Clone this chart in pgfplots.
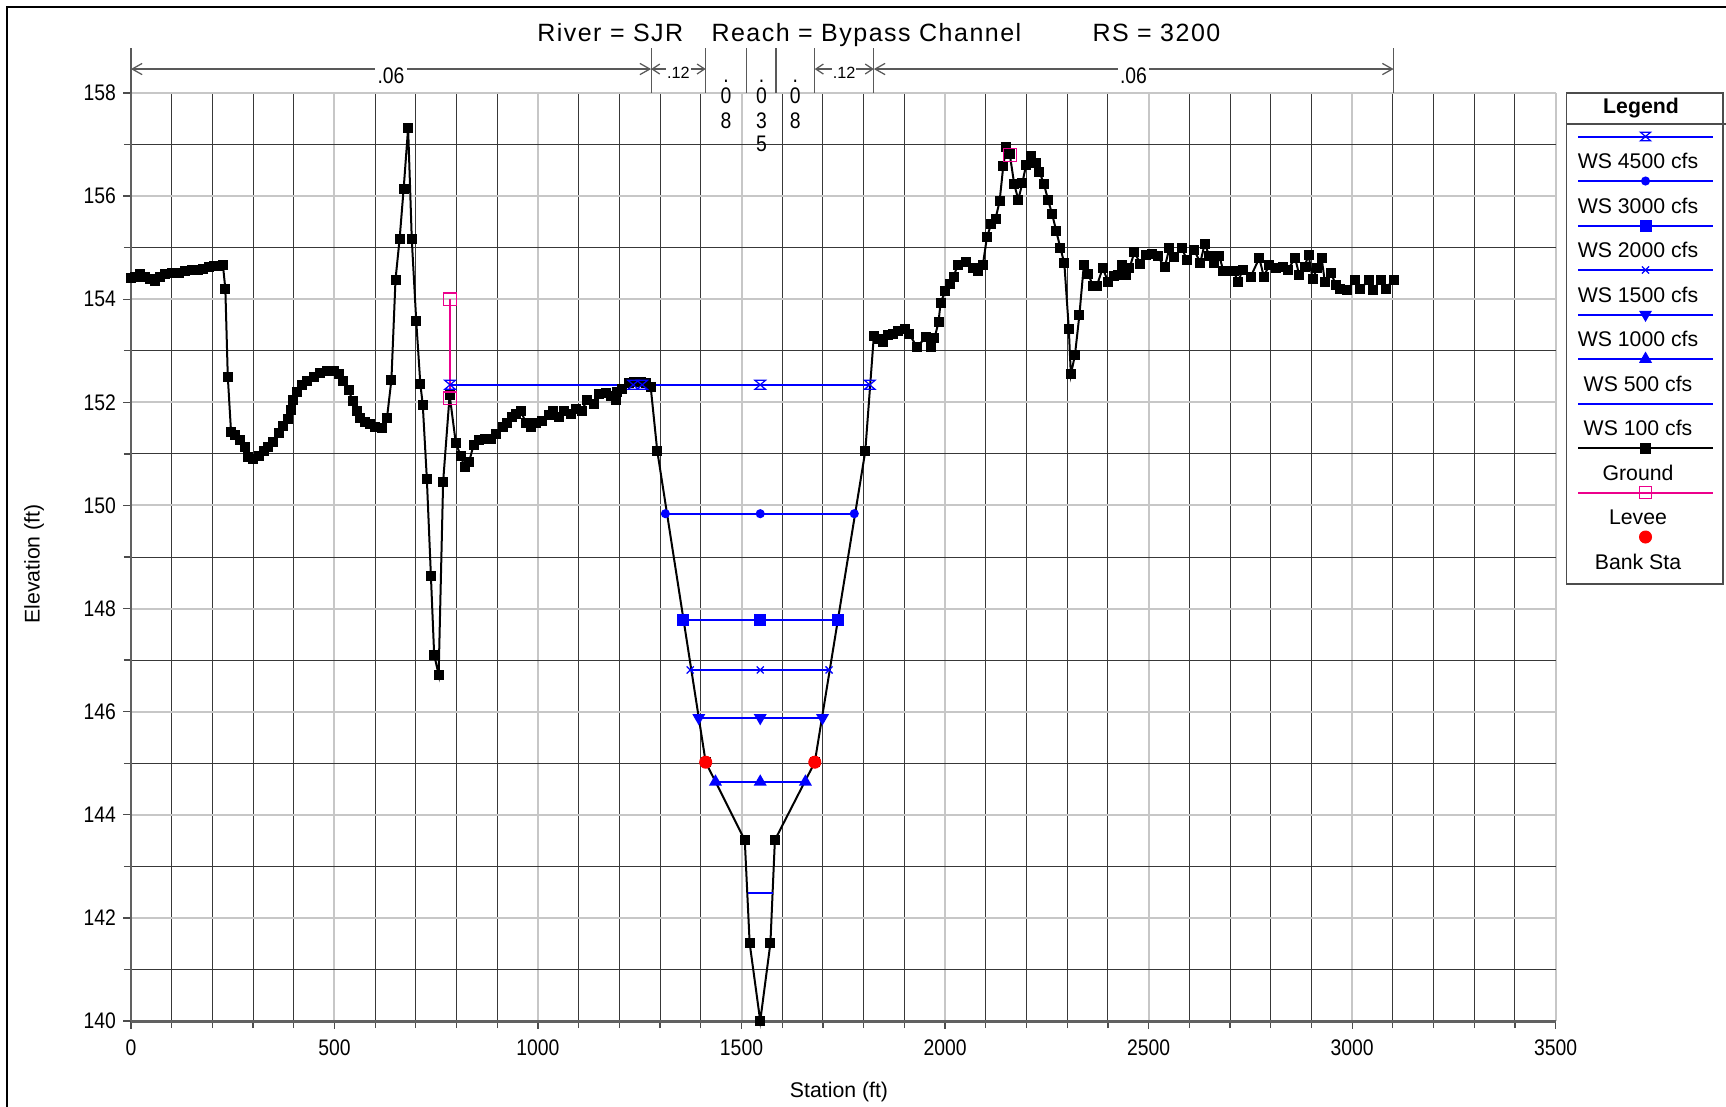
\documentclass[border=0pt]{standalone}
\usepackage{fontspec}
\setmainfont{Liberation Sans}
\newfontfamily\titlefam[LetterSpace=6]{Liberation Sans}
\usepackage{pgfplots}
\pgfplotsset{compat=1.18}
\usetikzlibrary{arrows.meta}

\newcommand\tickfont{\fontsize{9}{10.5}\selectfont}
\newcommand\legfont{\fontsize{8.5}{10}\selectfont}
\newcommand\smallnfont{\fontsize{6.5}{7.5}\selectfont}
\newcommand\titlefont{\titlefam\fontsize{10}{12}\selectfont}

\pgfdeclareplotmark{hourglass}{%
  \pgfpathmoveto{\pgfqpoint{-\pgfplotmarksize}{0.85\pgfplotmarksize}}%
  \pgfpathlineto{\pgfqpoint{\pgfplotmarksize}{0.85\pgfplotmarksize}}%
  \pgfpathlineto{\pgfqpoint{-\pgfplotmarksize}{-0.85\pgfplotmarksize}}%
  \pgfpathlineto{\pgfqpoint{\pgfplotmarksize}{-0.85\pgfplotmarksize}}%
  \pgfpathclose
  \pgfusepathqstroke}

\pgfplotsset{
  raslegend/.style={legend image code/.code={%
      \path[draw=none,fill=none] (0pt,-10.3pt) rectangle (62.6pt,7.5pt);
      \draw[mark repeat=2,mark phase=2,##1] plot coordinates {(4.6pt,5pt) (31.6pt,5pt) (58.6pt,5pt)};
      \node[draw=none,fill=none,text=black,inner sep=0pt,font=\legfont] at (28.6pt,-5.6pt) {#1};}},
  rasmarklegend/.style={legend image code/.code={%
      \path[draw=none,fill=none] (0pt,-10.3pt) rectangle (62.6pt,7.5pt);
      \path[##1] plot coordinates {(31.6pt,5pt)};
      \node[draw=none,fill=none,text=black,inner sep=0pt,font=\legfont] at (28.6pt,-5.6pt) {#1};}},
}

\pgfplotstableread{
st el
0 154.41
11 154.44
23 154.49
35 154.43
48 154.39
60 154.36
72 154.43
84 154.49
101 154.50
117 154.50
133 154.54
150 154.56
166 154.56
178 154.59
191 154.62
203 154.65
215 154.65
226 154.67
232 154.20
238 152.50
246 151.43
256 151.37
268 151.27
281 151.14
287 150.94
301 150.90
314 150.96
326 151.05
338 151.13
350 151.24
363 151.40
373 151.55
385 151.68
393 151.85
399 152.05
409 152.21
420 152.34
432 152.42
449 152.50
465 152.56
481 152.60
498 152.60
510 152.55
522 152.42
535 152.23
545 152.03
555 151.84
563 151.70
575 151.61
588 151.58
600 151.53
616 151.51
629 151.69
640 152.44
650 154.38
660 155.16
670 156.14
681 157.32
690 155.16
701 153.57
711 152.36
717 151.95
727 150.52
737 148.63
745 147.10
756 146.72
767 150.46
783 152.14
798 151.22
810 150.96
820 150.74
831 150.85
842 151.18
855 151.26
870 151.28
885 151.28
898 151.38
913 151.52
925 151.59
937 151.72
946 151.78
958 151.84
970 151.60
982 151.52
995 151.60
1011 151.64
1027 151.76
1036 151.84
1052 151.72
1064 151.84
1081 151.78
1093 151.88
1107 151.84
1121 152.04
1138 151.96
1150 152.16
1166 152.18
1179 152.12
1191 152.04
1195 152.20
1207 152.26
1224 152.37
1236 152.39
1252 152.39
1265 152.37
1277 152.29
1293 151.06
1412 145.02
1508 143.51
1520 141.51
1546 140.00
1571 141.51
1582 143.51
1680 145.02
1804 151.05
1825 153.28
1838 153.22
1848 153.18
1860 153.30
1872 153.32
1885 153.38
1902 153.43
1912 153.33
1931 153.07
1953 153.27
1966 153.07
1974 153.24
1984 153.56
1989 153.93
2000 154.15
2011 154.30
2021 154.43
2031 154.67
2052 154.73
2068 154.60
2082 154.55
2093 154.67
2103 155.21
2113 155.45
2124 155.56
2134 155.90
2143 156.58
2150 156.96
2159 156.81
2170 156.23
2180 155.93
2190 156.26
2199 156.60
2211 156.77
2223 156.65
2232 156.47
2243 156.23
2253 155.93
2263 155.65
2273 155.33
2283 155.00
2293 154.70
2304 153.43
2309 152.54
2319 152.91
2330 153.69
2341 154.67
2352 154.49
2363 154.26
2373 154.26
2387 154.60
2401 154.34
2414 154.45
2424 154.47
2434 154.67
2444 154.47
2453 154.60
2465 154.91
2480 154.69
2494 154.86
2508 154.88
2522 154.83
2540 154.63
2551 154.99
2563 154.82
2582 154.99
2594 154.76
2612 154.95
2627 154.71
2638 155.08
2649 154.84
2661 154.70
2674 154.83
2684 154.54
2698 154.54
2709 154.54
2720 154.34
2731 154.57
2751 154.44
2772 154.80
2783 154.44
2797 154.67
2813 154.60
2829 154.63
2842 154.57
2860 154.80
2870 154.47
2883 154.63
2893 154.86
2903 154.39
2914 154.60
2925 154.80
2933 154.34
2949 154.50
2960 154.27
2971 154.20
2988 154.18
3008 154.38
3020 154.19
3041 154.38
3052 154.18
3070 154.38
3082 154.20
3102 154.38
}\ground

\begin{document}
\begin{tikzpicture}
\useasboundingbox (0,0) rectangle (690.4pt,442.4pt);
\draw[line width=0.8pt] (2.8pt,-1pt) -- (2.8pt,439.6pt) -- (691pt,439.6pt);
\node[font=\titlefont, anchor=base west, inner sep=0pt] at (214.7pt,425.6pt) {River = SJR};
\node[font=\titlefont, anchor=base west, inner sep=0pt] at (284.4pt,425.6pt) {Reach = Bypass Channel};
\node[font=\titlefont, anchor=base west, inner sep=0pt] at (436.8pt,425.6pt) {RS = 3200};

\begin{axis}[
  at={(52.36pt,34pt)}, anchor=south west,
  scale only axis, width=569.9pt, height=371.2pt,
  xmin=0, xmax=3500, ymin=140, ymax=158,
  enlargelimits=false, clip=false,
  axis x line*=bottom, axis y line*=left,
  x axis line style={black!62, line width=1.2pt},
  y axis line style={black!62, line width=0.8pt},
  xtick={0,500,...,3500}, minor x tick num=4,
  ytick={140,142,...,158}, minor y tick num=1,
  grid=both,
  major grid style={draw=black!22, line width=0.8pt},
  minor grid style={draw=black!78, line width=0.4pt},
  tick align=outside,
  major tick length=3pt, minor tick length=2.8pt,
  tick style={black!70, line width=0.5pt},
  /pgf/number format/assume math mode=true,
  /pgf/number format/1000 sep={},
  xticklabel style={font=\tickfont, xscale=0.86, yshift=-0.9pt},
  yticklabel style={font=\tickfont, xscale=0.86},
  xlabel={Station (ft)},
  ylabel={Elevation (ft)},
  xlabel style={at={(axis description cs:0.497,-0.0765)}, anchor=center, font=\legfont},
  ylabel style={at={(axis description cs:-0.068,0.4925)}, anchor=center, font=\legfont},
  legend style={draw=none, fill=none, inner sep=0pt, outer sep=0pt, row sep=0pt,
     at={(axis description cs:1.00763,0.95986)}, anchor=north west,
     nodes={inner sep=0pt, draw=none, fill=none}},
]
% legend entries in reference order
\addlegendimage{blue, line width=0.8pt, mark=hourglass, mark size=2pt, mark options={solid, line width=0.5pt}, raslegend={WS 4500 cfs}}
\addlegendentry{}
\addlegendimage{blue, line width=0.8pt, mark=*, mark size=1.4pt, raslegend={WS 3000 cfs}}
\addlegendentry{}
\addlegendimage{blue, line width=0.8pt, mark=square*, mark size=2pt, raslegend={WS 2000 cfs}}
\addlegendentry{}
\addlegendimage{blue, line width=0.8pt, mark=x, mark size=2pt, mark options={line width=0.5pt}, raslegend={WS 1500 cfs}}
\addlegendentry{}
\addlegendimage{blue, line width=0.8pt, mark=triangle*, mark size=2.2pt, mark options={rotate=180}, raslegend={WS 1000 cfs}}
\addlegendentry{}
\addlegendimage{blue, line width=0.8pt, mark=triangle*, mark size=2.2pt, raslegend={WS 500 cfs}}
\addlegendentry{}
\addlegendimage{blue, line width=0.8pt, mark=none, raslegend={WS 100 cfs}}
\addlegendentry{}
\addlegendimage{black, line width=0.8pt, mark=square*, mark size=1.8pt, raslegend={Ground}}
\addlegendentry{}
\addlegendimage{magenta, line width=0.8pt, mark=square, mark size=2.5pt, mark options={line width=0.5pt}, raslegend={Levee}}
\addlegendentry{}
\addlegendimage{red, mark=*, mark size=2.4pt, rasmarklegend={Bank Sta}}
\addlegendentry{}

% Ground
\addplot[forget plot, black, line width=0.8pt, mark=square*, mark size=1.6pt] table[x=st, y=el] {\ground};

% Water surfaces
\addplot[forget plot, blue, line width=0.8pt, mark=hourglass, mark size=2.1pt, mark options={solid, line width=0.5pt}]
  coordinates {(784,152.34) (1234,152.34) (1256,152.34) (1546,152.34) (1815,152.34)};
\addplot[forget plot, blue, line width=0.8pt, mark=*, mark size=1.4pt]
  coordinates {(1313,149.84) (1546,149.84) (1777,149.84)};
\addplot[forget plot, blue, line width=0.8pt, mark=square*, mark size=2pt]
  coordinates {(1356,147.78) (1546,147.78) (1737,147.78)};
\addplot[forget plot, blue, line width=0.8pt, mark=x, mark size=2pt, mark options={line width=0.5pt}]
  coordinates {(1374,146.81) (1546,146.81) (1715,146.81)};
\addplot[forget plot, blue, line width=0.8pt, mark=triangle*, mark size=2.2pt, mark options={rotate=180}]
  coordinates {(1395,145.88) (1546,145.88) (1699,145.88)};
\addplot[forget plot, blue, line width=0.8pt, mark=triangle*, mark size=2.2pt]
  coordinates {(1436,144.64) (1546,144.64) (1657,144.64)};
\addplot[forget plot, blue, line width=0.8pt, mark=none]
  coordinates {(1515,142.48) (1577,142.48)};

% Levees
\addplot[forget plot, magenta, line width=0.8pt, mark=square, mark size=2.5pt, mark options={line width=0.5pt}]
  coordinates {(784,154.00) (784,152.08)};
\addplot[forget plot, magenta, only marks, mark=square, mark size=2.6pt, mark options={line width=0.5pt}]
  coordinates {(2159,156.80)};

% Bank stations
\addplot[forget plot, red, only marks, mark=*, mark size=2.4pt]
  coordinates {(1412,145.02) (1680,145.02)};

% Manning n annotations
\pgfplotsinvokeforeach{0,1278,1412,1513,1585,1680,1825,3102}{
  \draw[black!65, line width=0.5pt] (axis cs:#1,158) -- (axis cs:#1,158.873);
}
\draw[black!65, line width=0.5pt, {Straight Barb[length=4pt,width=4.5pt]}-{Straight Barb[length=4pt,width=4.5pt]}]
  (axis cs:0,158.465) -- (axis cs:1278,158.465);
\draw[black!65, line width=0.5pt, {Straight Barb[length=3pt,width=4pt]}-{Straight Barb[length=3pt,width=4pt]}]
  (axis cs:1278,158.465) -- (axis cs:1412,158.465);
\draw[black!65, line width=0.5pt, {Straight Barb[length=3pt,width=4pt]}-{Straight Barb[length=3pt,width=4pt]}]
  (axis cs:1680,158.465) -- (axis cs:1825,158.465);
\draw[black!65, line width=0.5pt, {Straight Barb[length=4pt,width=4.5pt]}-{Straight Barb[length=4pt,width=4.5pt]}]
  (axis cs:1825,158.465) -- (axis cs:3102,158.465);
\node[fill=white, inner sep=1pt, font=\tickfont, xscale=0.86] at (axis cs:639,158.33) {.06};
\node[fill=white, inner sep=1pt, font=\tickfont, xscale=0.86] at (axis cs:2463,158.33) {.06};
\node[fill=white, inner sep=0.4pt, font=\smallnfont] at (axis cs:1345,158.40) {.12};
\node[fill=white, inner sep=0.4pt, font=\smallnfont] at (axis cs:1752,158.40) {.12};
% vertically stacked n values .08 / .035 / .08
\node[anchor=base, inner sep=0pt, font=\tickfont, xscale=0.86] at (axis cs:1462,158.213) {.};
\node[anchor=base, inner sep=0pt, font=\tickfont, xscale=0.86] at (axis cs:1462,157.796) {0};
\node[anchor=base, inner sep=0pt, font=\tickfont, xscale=0.86] at (axis cs:1462,157.321) {8};
\node[anchor=base, inner sep=0pt, font=\tickfont, xscale=0.86] at (axis cs:1549,158.213) {.};
\node[anchor=base, inner sep=0pt, font=\tickfont, xscale=0.86] at (axis cs:1549,157.796) {0};
\node[anchor=base, inner sep=0pt, font=\tickfont, xscale=0.86] at (axis cs:1549,157.321) {3};
\node[anchor=base, inner sep=0pt, font=\tickfont, xscale=0.86] at (axis cs:1549,156.856) {5};
\node[anchor=base, inner sep=0pt, font=\tickfont, xscale=0.86] at (axis cs:1632,158.213) {.};
\node[anchor=base, inner sep=0pt, font=\tickfont, xscale=0.86] at (axis cs:1632,157.796) {0};
\node[anchor=base, inner sep=0pt, font=\tickfont, xscale=0.86] at (axis cs:1632,157.321) {8};
\end{axis}

% legend frame and title
\draw[black!70, line width=0.6pt] (626.6pt,208.8pt) rectangle (689.2pt,405.2pt);
\draw[black!70, line width=0.6pt] (626.6pt,392.8pt) -- (690.4pt,392.8pt);
\node[font=\legfont\bfseries, inner sep=0pt] at (656.4pt,399.2pt) {Legend};
\end{tikzpicture}
\end{document}
